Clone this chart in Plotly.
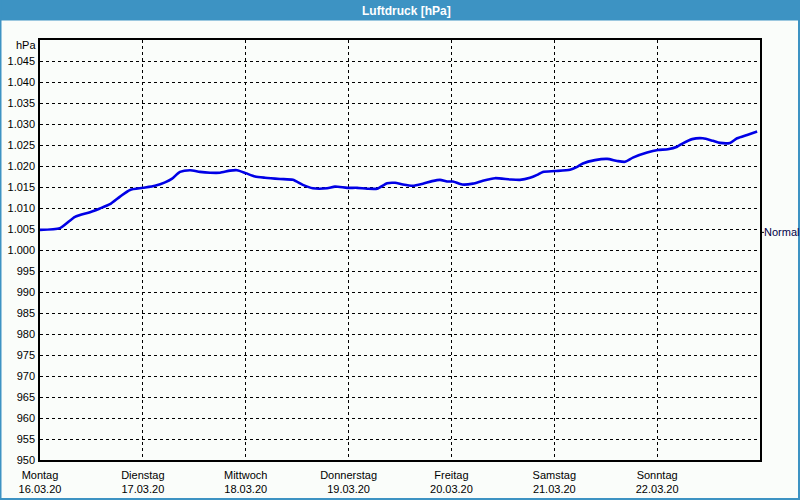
import plotly.graph_objects as go

# ---- data ----
times = [
    "2020-03-16 00:00", "2020-03-16 04:40", "2020-03-16 08:10", "2020-03-16 11:40",
    "2020-03-16 14:00", "2020-03-16 16:20", "2020-03-16 18:40", "2020-03-16 21:00",
    "2020-03-17 00:00", "2020-03-17 02:50", "2020-03-17 05:10", "2020-03-17 06:50",
    "2020-03-17 08:40", "2020-03-17 11:00", "2020-03-17 13:20", "2020-03-17 15:40",
    "2020-03-17 18:00", "2020-03-17 20:20", "2020-03-17 22:00", "2020-03-18 00:00",
    "2020-03-18 02:10", "2020-03-18 04:30", "2020-03-18 08:00", "2020-03-18 11:00",
    "2020-03-18 13:20", "2020-03-18 15:40", "2020-03-18 19:00", "2020-03-18 20:50",
    "2020-03-18 23:40", "2020-03-19 02:00", "2020-03-19 04:20", "2020-03-19 06:40",
    "2020-03-19 09:00", "2020-03-19 10:50", "2020-03-19 12:40", "2020-03-19 15:00",
    "2020-03-19 17:20", "2020-03-19 19:30", "2020-03-19 21:20", "2020-03-19 23:00",
    "2020-03-20 00:20", "2020-03-20 02:30", "2020-03-20 05:00", "2020-03-20 07:20",
    "2020-03-20 10:10", "2020-03-20 13:40", "2020-03-20 16:00", "2020-03-20 18:20",
    "2020-03-20 20:00", "2020-03-20 21:20", "2020-03-21 00:10", "2020-03-21 03:40",
    "2020-03-21 05:20", "2020-03-21 06:40", "2020-03-21 09:30", "2020-03-21 12:20",
    "2020-03-21 14:40", "2020-03-21 16:30", "2020-03-21 18:20", "2020-03-21 21:40",
    "2020-03-22 00:10", "2020-03-22 02:30", "2020-03-22 04:40", "2020-03-22 06:00",
    "2020-03-22 08:10", "2020-03-22 10:40", "2020-03-22 13:00", "2020-03-22 14:40",
    "2020-03-22 17:00", "2020-03-22 18:40", "2020-03-22 21:00", "2020-03-22 23:20",
]
pressure = [
    1004.8, 1005.2, 1007.9, 1009.0, 1009.9, 1010.9, 1012.7, 1014.3,
    1014.8, 1015.3, 1016.1, 1017.0, 1018.6, 1019.0, 1018.6, 1018.4,
    1018.4, 1018.9, 1019.0, 1018.3, 1017.5, 1017.2, 1016.9, 1016.7,
    1015.5, 1014.7, 1014.7, 1015.1, 1014.8, 1014.8, 1014.6, 1014.6,
    1015.9, 1016.0, 1015.6, 1015.3, 1015.8, 1016.4, 1016.7, 1016.3,
    1016.3, 1015.6, 1015.8, 1016.5, 1017.1, 1016.8, 1016.7, 1017.2,
    1017.9, 1018.6, 1018.8, 1019.1, 1019.8, 1020.6, 1021.4, 1021.7,
    1021.2, 1021.0, 1022.0, 1023.2, 1023.8, 1024.0, 1024.6, 1025.4,
    1026.4, 1026.6, 1026.0, 1025.5, 1025.5, 1026.6, 1027.4, 1028.2,
]
normal_pressure = 1004.2

day_dates = ["2020-03-16", "2020-03-17", "2020-03-18", "2020-03-19",
             "2020-03-20", "2020-03-21", "2020-03-22"]
day_names = ["Montag", "Dienstag", "Mittwoch", "Donnerstag",
             "Freitag", "Samstag", "Sonntag"]
day_labels = ["16.03.20", "17.03.20", "18.03.20", "19.03.20",
              "20.03.20", "21.03.20", "22.03.20"]
y_ticks = list(range(950, 1050, 5))

title_text = "Luftdruck [hPa]"
unit_text = "hPa"
normal_text = "Normal"

# ---- layout constants ----
W, H = 800, 500
L, R, T, B = 40, 40, 40, 40
PW, PH = W - L - R, H - T - B
BG = "#fafdfa"
BAR = "#3d93c3"
FONT = "Liberation Sans, Arial, sans-serif"


def px_x(p):
    return (p - L) / PW


def px_y(p):
    return (H - B - p) / PH


def fmt(v):
    return f"{v:,}".replace(",", ".")


fig = go.Figure()
fig.add_trace(go.Scatter(
    x=times, y=pressure, mode="lines",
    line=dict(color="#0000e6", width=2.6, shape="spline", smoothing=0.6),
    hoverinfo="skip", showlegend=False,
))

fig.update_layout(
    width=W, height=H,
    margin=dict(l=L, r=R, t=T, b=B, pad=0, autoexpand=False),
    paper_bgcolor=BG, plot_bgcolor=BG,
    font=dict(family=FONT, size=11, color="#000000"),
    showlegend=False,
    xaxis=dict(
        type="date", automargin=False,
        range=["2020-03-16 00:00", "2020-03-23 00:00"],
        tickvals=day_dates,
        ticktext=[f"{n}<br>{d}" for n, d in zip(day_names, day_labels)],
        ticks="outside", ticklen=4, tickcolor="rgba(0,0,0,0)",
        showgrid=True, gridcolor="#000000", gridwidth=1, griddash="3px,3px",
        showline=True, linecolor="#000000", linewidth=1.5, mirror=True,
        zeroline=False, fixedrange=True,
        tickfont=dict(family=FONT, size=11, color="#000000"),
    ),
    yaxis=dict(
        automargin=False,
        range=[950, 1050],
        tickvals=y_ticks,
        ticktext=[fmt(v) for v in y_ticks],
        ticks="outside", ticklen=1, tickcolor="rgba(0,0,0,0)",
        showgrid=True, gridcolor="#000000", gridwidth=1, griddash="3px,3px",
        showline=True, linecolor="#000000", linewidth=1.5, mirror=True,
        zeroline=False, fixedrange=True,
        tickfont=dict(family=FONT, size=11, color="#000000"),
    ),
)

shapes = [
    # title bar
    dict(type="rect", xref="paper", yref="paper",
         x0=px_x(0), x1=px_x(W), y0=px_y(20.5), y1=px_y(0),
         fillcolor=BAR, line=dict(width=0), layer="above"),
    # window border (left, right, bottom)
    dict(type="line", xref="paper", yref="paper",
         x0=px_x(0.75), x1=px_x(0.75), y0=px_y(0), y1=px_y(H),
         line=dict(color=BAR, width=1.5), layer="above"),
    dict(type="line", xref="paper", yref="paper",
         x0=px_x(W - 1), x1=px_x(W - 1), y0=px_y(0), y1=px_y(H),
         line=dict(color=BAR, width=2), layer="above"),
    dict(type="line", xref="paper", yref="paper",
         x0=px_x(0), x1=px_x(W), y0=px_y(H - 1), y1=px_y(H - 1),
         line=dict(color=BAR, width=2), layer="above"),
    # normal-pressure tick on right
    dict(type="line", xref="paper", yref="y",
         x0=1, x1=px_x(L + PW + 4), y0=normal_pressure, y1=normal_pressure,
         line=dict(color="#000000", width=1)),
]
fig.update_layout(shapes=shapes)

fig.add_annotation(
    text=f"<b>{title_text}</b>", xref="paper", yref="paper",
    x=px_x(406), y=px_y(10.5), xanchor="center", yanchor="middle",
    showarrow=False, font=dict(family=FONT, size=12, color="#ffffff"),
)
fig.add_annotation(
    text=unit_text, xref="paper", yref="paper",
    x=px_x(38), y=px_y(45.5), xanchor="right", yanchor="middle",
    showarrow=False, font=dict(family=FONT, size=11, color="#000000"),
)
fig.add_annotation(
    text=normal_text, xref="paper", yref="y",
    x=px_x(L + PW + 2), y=normal_pressure, xanchor="left", yanchor="middle",
    showarrow=False, font=dict(family=FONT, size=11, color="#000048"),
)

fig.write_html("out.html")
